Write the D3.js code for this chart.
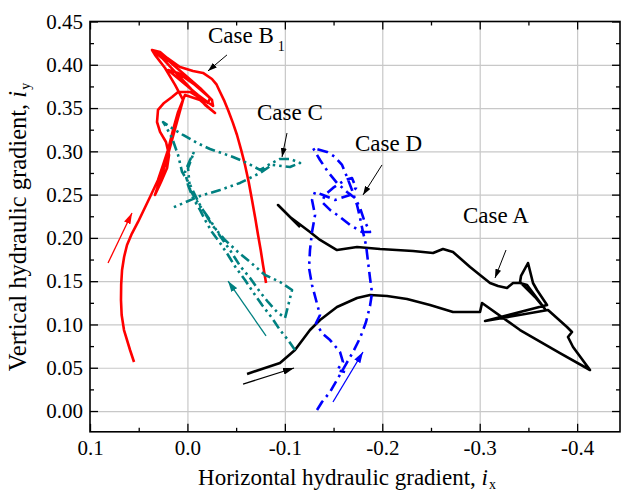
<!DOCTYPE html>
<html>
<head>
<meta charset="utf-8">
<script src="https://cdn.jsdelivr.net/npm/d3@7"></script>
<style>
  body { margin: 0; background: #fff; }
  svg, svg text { font-family: "Liberation Serif", "Times New Roman", serif; }
</style>
</head>
<body>
<svg id="chart"></svg>
<script>
// trajectories [ix, iy]
const caseA = [
  [-0.0612, 0.0428], [-0.0950, 0.0555], [-0.1104, 0.0705], [-0.1258, 0.0936], [-0.1361, 0.1052],
  [-0.1535, 0.1202], [-0.1741, 0.1306], [-0.1874, 0.1340], [-0.2049, 0.1329], [-0.2254, 0.1294],
  [-0.2490, 0.1225], [-0.2726, 0.1144], [-0.3003, 0.1144], [-0.3024, 0.1248], [-0.3414, 0.0936],
  [-0.3824, 0.0670], [-0.4132, 0.0474], [-0.3958, 0.0740], [-0.3906, 0.0855], [-0.3947, 0.0913],
  [-0.3896, 0.0971], [-0.3701, 0.1167], [-0.3055, 0.1040], [-0.3691, 0.1225], [-0.3588, 0.1398],
  [-0.3547, 0.1479], [-0.3496, 0.1710], [-0.3424, 0.1560], [-0.3414, 0.1491], [-0.3568, 0.1317],
  [-0.3670, 0.1179], [-0.3486, 0.1456], [-0.3414, 0.1479], [-0.3342, 0.1479], [-0.3280, 0.1421],
  [-0.3188, 0.1444], [-0.3106, 0.1479], [-0.3003, 0.1572], [-0.2901, 0.1664], [-0.2726, 0.1837],
  [-0.2623, 0.1872], [-0.2521, 0.1826], [-0.2316, 0.1849], [-0.1977, 0.1872], [-0.1741, 0.1895],
  [-0.1535, 0.1860], [-0.1361, 0.1976], [-0.1258, 0.2068], [-0.1053, 0.2242], [-0.0981, 0.2323],
  [-0.0930, 0.2380], [-0.1156, 0.2126]
];

const caseB1 = [
  [0.0548, 0.0566], [0.0589, 0.0705], [0.0651, 0.0936], [0.0675, 0.1110], [0.0682, 0.1283],
  [0.0680, 0.1460], [0.0671, 0.1629], [0.0650, 0.1780], [0.0620, 0.1918], [0.0570, 0.2050],
  [0.0507, 0.2184], [0.0384, 0.2473], [0.0302, 0.2669], [0.0250, 0.2843],
  [0.0199, 0.3016], [0.0148, 0.3247], [0.0096, 0.3455], [0.0025, 0.3651], [-0.0129, 0.3594],
  [-0.0283, 0.3443], [-0.0181, 0.3536], [-0.0027, 0.3732], [0.0127, 0.3917], [0.0261, 0.4079],
  [0.0363, 0.4171], [0.0302, 0.4137], [0.0179, 0.4033], [0.0025, 0.3883], [-0.0129, 0.3732],
  [-0.0252, 0.3594], [-0.0263, 0.3524], [-0.0109, 0.3651], [0.0076, 0.3825], [0.0199, 0.3940],
  [0.0096, 0.3906], [-0.0078, 0.3767], [-0.0232, 0.3617], [-0.0211, 0.3559], [-0.0027, 0.3686],
  [0.0096, 0.3686], [0.0158, 0.3628], [0.0240, 0.3559], [0.0302, 0.3478], [0.0312, 0.3339],
  [0.0281, 0.3224], [0.0220, 0.3108], [0.0189, 0.2958], [0.0209, 0.2808], [0.0271, 0.2646],
  [0.0333, 0.2496], [0.0281, 0.2669], [0.0220, 0.2877], [0.0158, 0.3131], [0.0096, 0.3386],
  [0.0045, 0.3594], [0.0127, 0.3767], [0.0230, 0.3963], [0.0333, 0.4114], [0.0363, 0.4171],
  [0.0281, 0.4148], [0.0209, 0.4079], [0.0076, 0.3975], [-0.0057, 0.3929], [-0.0160, 0.3906],
  [-0.0252, 0.3836], [-0.0300, 0.3770], [-0.0335, 0.3686], [-0.0380, 0.3580], [-0.0417, 0.3478],
  [-0.0465, 0.3335], [-0.0509, 0.3189], [-0.0552, 0.3015], [-0.0591, 0.2843], [-0.0630, 0.2640],
  [-0.0663, 0.2438], [-0.0695, 0.2235], [-0.0725, 0.2034], [-0.0752, 0.1860], [-0.0776, 0.1687],
  [-0.0807, 0.1479]
];

const caseC = [
  [-0.1104, 0.0705], [-0.1033, 0.0820], [-0.0950, 0.0936], [-0.0868, 0.1075], [-0.0766, 0.1225],
  [-0.0673, 0.1375], [-0.0591, 0.1514], [-0.0499, 0.1652], [-0.0417, 0.1803], [-0.0335, 0.1941],
  [-0.0252, 0.2068], [-0.0181, 0.2207], [-0.0129, 0.2323], [-0.0057, 0.2461], [-0.0006, 0.2612],
  [0.0025, 0.2762], [-0.0027, 0.2900], [-0.0068, 0.2993], [-0.0006, 0.2808], [-0.0027, 0.2554],
  [-0.0129, 0.2369], [-0.0232, 0.2207], [-0.0335, 0.2022], [-0.0437, 0.1860], [-0.0540, 0.1676],
  [-0.0643, 0.1537], [-0.0745, 0.1375], [-0.0827, 0.1260], [-0.0920, 0.1144], [-0.1002, 0.1075],
  [-0.1074, 0.1398], [-0.0950, 0.1491], [-0.0796, 0.1572], [-0.0643, 0.1722], [-0.0519, 0.1837],
  [-0.0386, 0.1976], [-0.0252, 0.2149], [-0.0129, 0.2380], [-0.0027, 0.2612], [0.0055, 0.2762],
  [0.0096, 0.2958], [0.0158, 0.3155], [0.0230, 0.3305], [0.0250, 0.3339], [0.0179, 0.3282],
  [0.0045, 0.3189], [-0.0099, 0.3097], [-0.0232, 0.3027], [-0.0468, 0.2935], [-0.0612, 0.2866],
  [-0.0745, 0.2785], [-0.0868, 0.2866], [-0.0950, 0.2912], [-0.1053, 0.2912], [-0.1156, 0.2866],
  [-0.1053, 0.2820], [-0.0868, 0.2843], [-0.0745, 0.2750], [-0.0540, 0.2635], [-0.0335, 0.2554],
  [-0.0129, 0.2484], [0.0158, 0.2346]
];

const caseD = [
  [-0.1330, 0.0012], [-0.1381, 0.0104], [-0.1464, 0.0220], [-0.1546, 0.0381], [-0.1628, 0.0543],
  [-0.1700, 0.0682], [-0.1772, 0.0844], [-0.1833, 0.1028], [-0.1874, 0.1213], [-0.1895, 0.1364],
  [-0.1874, 0.1537], [-0.1854, 0.1722], [-0.1833, 0.1918], [-0.1802, 0.2068], [-0.1772, 0.2230],
  [-0.1741, 0.2380], [-0.1689, 0.2554], [-0.1638, 0.2704], [-0.1587, 0.2843], [-0.1515, 0.2935],
  [-0.1433, 0.2993], [-0.1289, 0.3039], [-0.1361, 0.2900], [-0.1443, 0.2762], [-0.1535, 0.2635],
  [-0.1638, 0.2531], [-0.1720, 0.2461], [-0.1772, 0.2346], [-0.1813, 0.2207], [-0.1874, 0.2068],
  [-0.1792, 0.2068], [-0.1669, 0.2149], [-0.1566, 0.2242], [-0.1464, 0.2323], [-0.1381, 0.2415],
  [-0.1412, 0.2496], [-0.1494, 0.2577], [-0.1618, 0.2669], [-0.1689, 0.2692], [-0.1730, 0.2577],
  [-0.1669, 0.2496], [-0.1515, 0.2438], [-0.1392, 0.2496], [-0.1310, 0.2531], [-0.1279, 0.2438],
  [-0.1310, 0.2265], [-0.1279, 0.2068], [-0.1258, 0.1860], [-0.1248, 0.1652], [-0.1279, 0.1456],
  [-0.1320, 0.1283], [-0.1361, 0.1109], [-0.1320, 0.1017], [-0.1381, 0.0901], [-0.1464, 0.0820],
  [-0.1566, 0.0682], [-0.1597, 0.0566], [-0.1535, 0.0474], [-0.1618, 0.0451]
];

const xTicks = [0.1, 0.0, -0.1, -0.2, -0.3, -0.4];
const xMinor = [0.05, -0.05, -0.15, -0.25, -0.35];
const yTicks = [0.00, 0.05, 0.10, 0.15, 0.20, 0.25, 0.30, 0.35, 0.40, 0.45];
const yMinor = [0.025, 0.075, 0.125, 0.175, 0.225, 0.275, 0.325, 0.375, 0.425];

// label text, anchor [ix, iy], pointer from -> to
const labels = [
  ["Case B", "1", [-0.0211, 0.4252], [-0.0406, 0.4114], [-0.0211, 0.3929]],
  ["Case C", "", [-0.0714, 0.3363], [-0.1022, 0.3212], [-0.0971, 0.2935]],
  ["Case D", "", [-0.1720, 0.3004], [-0.1997, 0.2843], [-0.1802, 0.2496]],
  ["Case A", "", [-0.2829, 0.2172], [-0.3270, 0.1860], [-0.3157, 0.1537]]
];
// direction arrows: colour, from, to
const dirArrows = [
  ["#ff0000", [0.0815, 0.1710], [0.0569, 0.2288]],
  ["#008080", [-0.0807, 0.0867], [-0.0417, 0.1502]],
  ["#000000", [-0.0571, 0.0312], [-0.1094, 0.0497]],
  ["#0000ff", [-0.1494, 0.0104], [-0.1802, 0.0682]]
];

const width = 625, height = 491;
const pLeft = 90, pRight = 620, pTop = 21.5, pBottom = 431.8;

const x = d3.scaleLinear().domain([0.1, -0.444]).range([pLeft, pRight]);
const y = d3.scaleLinear().domain([-0.024, 0.45]).range([pBottom, pTop]);

const svg = d3.select("#chart").attr("width", width).attr("height", height);

const defs = svg.append("defs");
function marker(id, color, len, wid) {
  defs.append("marker")
    .attr("id", id)
    .attr("markerUnits", "userSpaceOnUse")
    .attr("viewBox", `0 0 ${len} ${wid}`)
    .attr("refX", len).attr("refY", wid / 2)
    .attr("markerWidth", len).attr("markerHeight", wid)
    .attr("orient", "auto")
    .append("path")
    .attr("d", `M0,0L${len},${wid / 2}L0,${wid}z`)
    .attr("fill", color);
}
marker("head-k", "#000", 9, 6);
dirArrows.forEach((d, i) => marker("dir" + i, d[0], 11, 7));

// grid
svg.append("g")
  .attr("transform", `translate(0,${pBottom})`)
  .call(d3.axisBottom(x).tickValues(xTicks.slice(1)).tickSize(-(pBottom - pTop)).tickFormat(""))
  .call(g => g.select(".domain").remove())
  .selectAll("line").attr("stroke", "#c8c8c8").attr("stroke-width", 1.2);
svg.append("g")
  .attr("transform", `translate(${pLeft},0)`)
  .call(d3.axisLeft(y).tickValues(yTicks.slice(0, -1)).tickSize(-(pRight - pLeft)).tickFormat(""))
  .call(g => g.select(".domain").remove())
  .selectAll("line").attr("stroke", "#c8c8c8").attr("stroke-width", 1.2);

// curves
const line = d3.line()
  .x(d => x(d[0]))
  .y(d => y(d[1]));

const series = [
  [caseA, "#000000", null],
  [caseB1, "#ff0000", null],
  [caseC, "#008080", "10,4,2.5,4,2.5,4"],
  [caseD, "#0000ff", "11,5,2.5,5"]
];
series.forEach(([data, color, dash]) => {
  svg.append("path")
    .datum(data)
    .attr("d", line)
    .attr("fill", "none")
    .attr("stroke", color)
    .attr("stroke-width", 2.6)
    .attr("stroke-linejoin", "round")
    .attr("stroke-dasharray", dash);
});

// direction arrows
dirArrows.forEach((d, i) => {
  svg.append("line")
    .attr("x1", x(d[1][0])).attr("y1", y(d[1][1]))
    .attr("x2", x(d[2][0])).attr("y2", y(d[2][1]))
    .attr("stroke", d[0]).attr("stroke-width", 1.3)
    .attr("marker-end", `url(#dir${i})`);
});

// labels + pointers
labels.forEach(d => {
  const t = svg.append("text")
    .attr("x", x(d[2][0])).attr("y", y(d[2][1]))
    .attr("font-size", 23)
    .text(d[0]);
  if (d[1]) t.append("tspan").attr("dx", 4).attr("dy", 8).attr("font-size", 14).text(d[1]);
  svg.append("line")
    .attr("x1", x(d[3][0])).attr("y1", y(d[3][1]))
    .attr("x2", x(d[4][0])).attr("y2", y(d[4][1]))
    .attr("stroke", "#000").attr("stroke-width", 1)
    .attr("marker-end", "url(#head-k)");
});

// frame
svg.append("rect")
  .attr("x", pLeft).attr("y", pTop)
  .attr("width", pRight - pLeft).attr("height", pBottom - pTop)
  .attr("fill", "none").attr("stroke", "#000").attr("stroke-width", 1.6);

// axes, ticks inside
function styleAxis(g) {
  g.attr("font-family", null).attr("font-size", null);
  g.select(".domain").remove();
  g.selectAll("line").attr("stroke", "#000").attr("stroke-width", 1.3);
  g.selectAll("text").attr("font-size", 21).attr("fill", "#000");
}
const fx = d => d.toFixed(1);
const fy = d => d.toFixed(2);

svg.append("g").attr("transform", `translate(0,${pBottom})`)
  .call(d3.axisBottom(x).tickValues(xTicks).tickSizeInner(-8).tickSizeOuter(0).tickPadding(8).tickFormat(fx))
  .call(styleAxis);
svg.append("g").attr("transform", `translate(0,${pBottom})`)
  .call(d3.axisBottom(x).tickValues(xMinor).tickSize(-4).tickFormat(""))
  .call(styleAxis);
svg.append("g").attr("transform", `translate(0,${pTop})`)
  .call(d3.axisTop(x).tickValues(xTicks).tickSize(-8).tickFormat(""))
  .call(styleAxis);
svg.append("g").attr("transform", `translate(0,${pTop})`)
  .call(d3.axisTop(x).tickValues(xMinor).tickSize(-4).tickFormat(""))
  .call(styleAxis);

svg.append("g").attr("transform", `translate(${pLeft},0)`)
  .call(d3.axisLeft(y).tickValues(yTicks).tickSizeInner(-8).tickSizeOuter(0).tickPadding(7).tickFormat(fy))
  .call(styleAxis);
svg.append("g").attr("transform", `translate(${pLeft},0)`)
  .call(d3.axisLeft(y).tickValues(yMinor).tickSize(-4).tickFormat(""))
  .call(styleAxis);
svg.append("g").attr("transform", `translate(${pRight},0)`)
  .call(d3.axisRight(y).tickValues(yTicks).tickSize(-8).tickFormat(""))
  .call(styleAxis);
svg.append("g").attr("transform", `translate(${pRight},0)`)
  .call(d3.axisRight(y).tickValues(yMinor).tickSize(-4).tickFormat(""))
  .call(styleAxis);

// axis titles
const xt = svg.append("text")
  .attr("x", 347).attr("y", 485)
  .attr("text-anchor", "middle").attr("font-size", 23)
  .text("Horizontal hydraulic gradient, ");
xt.append("tspan").attr("font-style", "italic").text("i");
xt.append("tspan").attr("font-size", 14).attr("dx", 1).attr("dy", 4).text("x");

const yt = svg.append("text")
  .attr("transform", "rotate(-90)")
  .attr("x", -227).attr("y", 26)
  .attr("text-anchor", "middle").attr("font-size", 24.5)
  .text("Vertical hydraulic gradient, ");
yt.append("tspan").attr("font-style", "italic").text("i");
yt.append("tspan").attr("font-size", 14).attr("dx", 1).attr("dy", 4).text("y");
</script>
</body>
</html>
